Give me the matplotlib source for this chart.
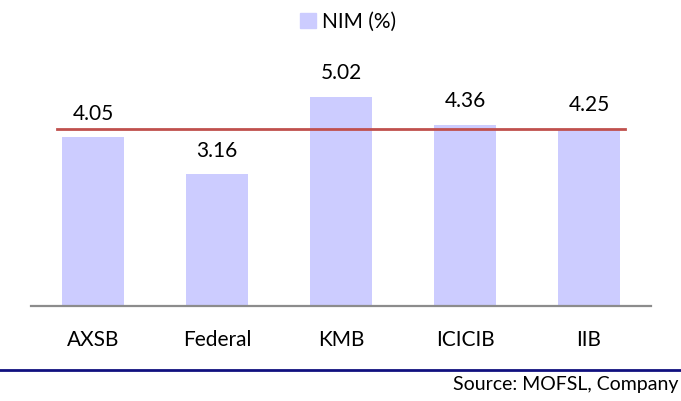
import matplotlib.pyplot as plt
from matplotlib.patches import Patch
from matplotlib.lines import Line2D

banks = ["AXSB", "Federal", "KMB", "ICICIB", "IIB"]
nim = [4.05, 3.16, 5.02, 4.36, 4.25]
avg_nim = 4.25

plt.rcParams['font.family'] = ['Lato', 'DejaVu Sans']

fig = plt.figure(figsize=(6.81, 4.01), dpi=100)
# axes placed so the baseline and bar spacing line up with the original
ax = fig.add_axes([31 / 681, 95 / 401, 620 / 681, 266 / 401])

x = range(len(banks))
ax.bar(x, nim, width=0.5, color="#CCCCFF", zorder=2)
ax.plot([-0.29, 4.29], [avg_nim, avg_nim], color="#C0504D", lw=2, zorder=3)

for i, v in enumerate(nim):
    ax.annotate(f"{v:.2f}", (i, v), xytext=(0, 10), textcoords="offset points",
                ha="center", va="bottom", fontsize=15, color="black")

ax.set_xlim(-0.5, 4.5)
ax.set_ylim(0, 6.39)
ax.set_xticks(list(x))
ax.set_xticklabels(banks, fontsize=15)
ax.tick_params(axis="x", length=0, pad=17)
ax.set_yticks([])
for s in ["top", "right", "left"]:
    ax.spines[s].set_visible(False)
ax.spines["bottom"].set_color("#8C8C8C")
ax.spines["bottom"].set_linewidth(1.6)

fig.legend(handles=[Patch(color="#CCCCFF", label="NIM (%)")], loc="center",
           bbox_to_anchor=(0.511, 0.945), frameon=False, fontsize=15,
           handlelength=0.75, handleheight=0.75, handletextpad=0.3)

# navy rule and source note
fig.add_artist(Line2D([0, 1], [1 - 370 / 401] * 2, color="#10107F", lw=2))
fig.text(0.996, 1 - 390 / 401, "Source: MOFSL, Company", ha="right", va="baseline",
         fontsize=14)

fig.savefig("out.png", dpi=100)
